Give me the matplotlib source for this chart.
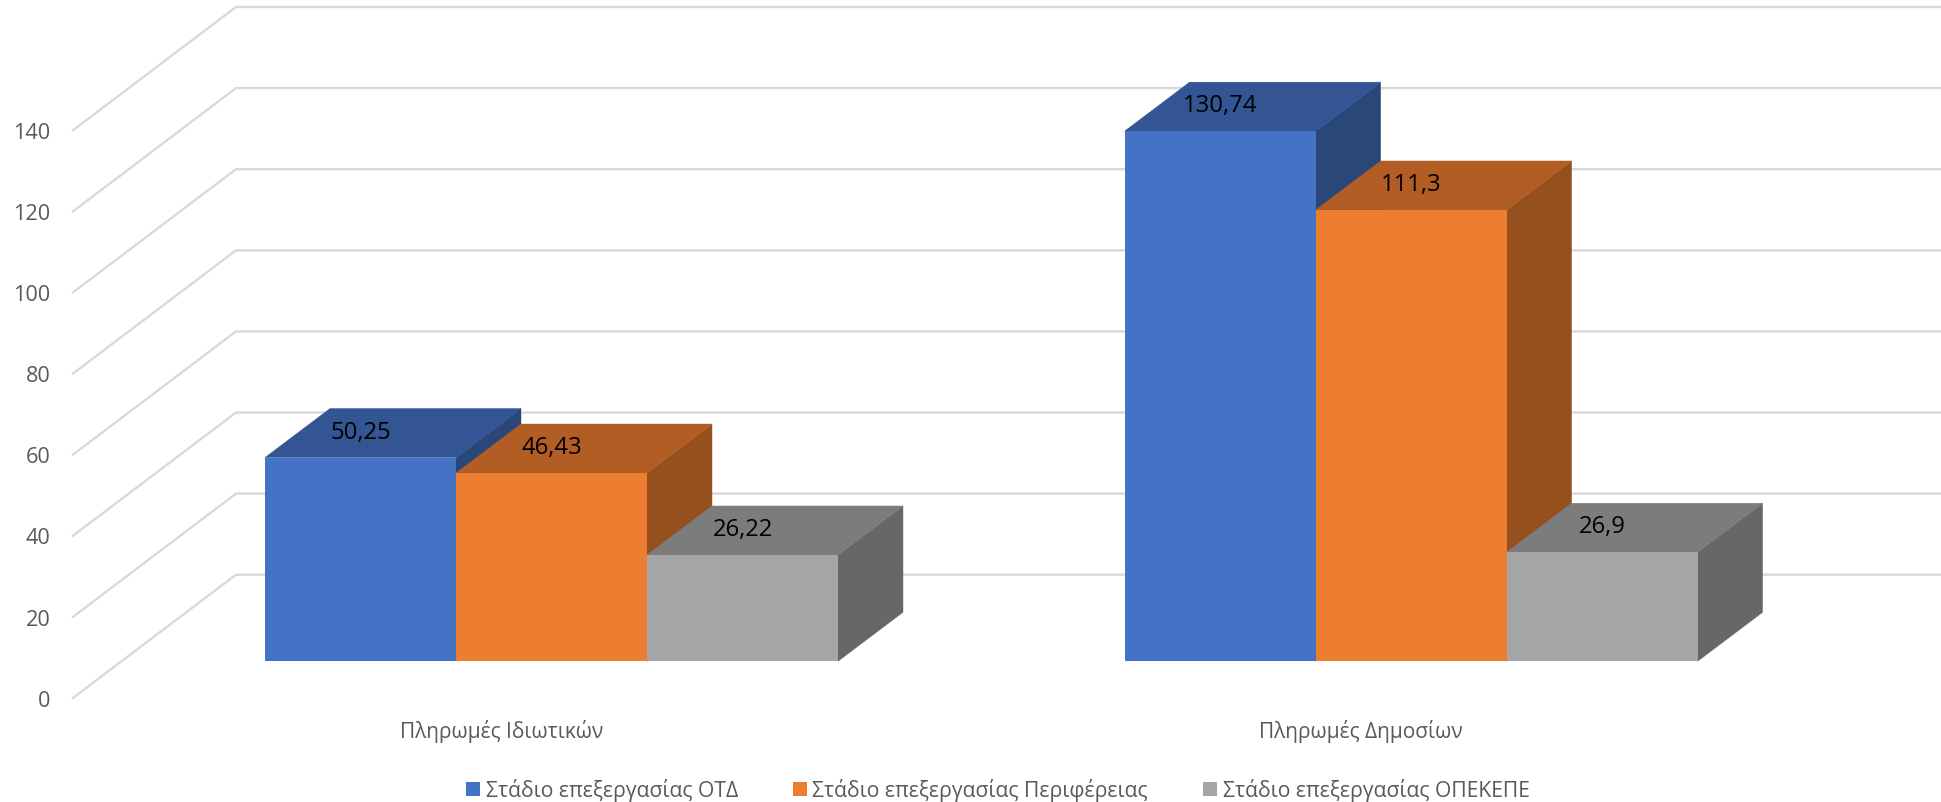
import matplotlib
matplotlib.use("Agg")
import matplotlib.pyplot as plt
from matplotlib.patches import Polygon, Patch

plt.rcParams['font.family'] = ['Open Sans', 'DejaVu Sans']

# ---- data ----
categories = ["Πληρωμές Ιδιωτικών", "Πληρωμές Δημοσίων"]
series_names = ["Στάδιο επεξεργασίας ΟΤΔ", "Στάδιο επεξεργασίας Περιφέρειας", "Στάδιο επεξεργασίας ΟΠΕΚΕΠΕ"]
values_otd = [50.25, 130.74]
values_perifereia = [46.43, 111.3]
values_opekepe = [26.22, 26.9]
value_labels_otd = ["50,25", "130,74"]
value_labels_perifereia = ["46,43", "111,3"]
value_labels_opekepe = ["26,22", "26,9"]
y_ticks = [0, 20, 40, 60, 80, 100, 120, 140]

# ---- styles ----
front_colors = ["#4472C4", "#ED7D31", "#A5A5A5"]
top_colors = ["#335593", "#B25D23", "#7C7C7C"]
side_colors = ["#2A4779", "#95501D", "#676767"]
grid_color = "#D9D9D9"
text_color = "#595959"

W, H = 1941, 802
PX_PER_CAT = 859.6       # px between category centres
PX_PER_UNIT = 4.055      # px per value unit
CAT0_PX = 551.5          # px of first category centre, bar plane
BASE_PX = 661.3          # px of value 0, bar plane
AX_LEFT_PX, AX_BOTTOM_PX = 72.0, 698.7
WALL_BACK_PX, WALL_BACK_BASE_PX = 236.0, 574.7
BAR_WIDTH = 191.0 / PX_PER_CAT
BAR_DX = 65.0 / PX_PER_CAT   # depth of a bar, x data units
BAR_DY = 49.0 / PX_PER_UNIT  # depth of a bar, value units
LABEL_LIFT = 25.0 / PX_PER_UNIT
FLOOR_SHIFT = 50.0 / PX_PER_CAT  # category labels sit at the floor's front edge

fig = plt.figure(figsize=(W / 100, H / 100), dpi=100, facecolor="white")
ax = fig.add_axes([AX_LEFT_PX / W, 1 - AX_BOTTOM_PX / H, 1 - AX_LEFT_PX / W, AX_BOTTOM_PX / H])
ax.set_xlim((AX_LEFT_PX - CAT0_PX) / PX_PER_CAT, (W - CAT0_PX) / PX_PER_CAT)
front_lift = (BASE_PX - AX_BOTTOM_PX) / PX_PER_UNIT
back_lift = (BASE_PX - WALL_BACK_BASE_PX) / PX_PER_UNIT
ax.set_ylim(front_lift, BASE_PX / PX_PER_UNIT)
for s in ax.spines.values():
    s.set_visible(False)
x_left, x_right = ax.get_xlim()
x_back = (WALL_BACK_PX - CAT0_PX) / PX_PER_CAT

# gridlines on side and back walls
for v in y_ticks:
    ax.plot([x_left, x_back, x_right],
            [v + front_lift, v + back_lift, v + back_lift],
            color=grid_color, lw=1.7, zorder=1, clip_on=False,
            solid_joinstyle="miter", solid_capstyle="butt")

# value ticks at the front edge of the side wall
ax.set_yticks([v + front_lift for v in y_ticks])
ax.set_yticklabels([str(v) for v in y_ticks], fontsize=15.6, color=text_color)
ax.tick_params(axis="y", length=0, pad=15.5)

# category ticks on the floor's front edge
ax.set_xticks([c - FLOOR_SHIFT for c in range(len(categories))])
ax.set_xticklabels(categories, fontsize=15, color=text_color)
ax.tick_params(axis="x", length=0, pad=15.5)

# bars, painted left to right
all_values = [values_otd, values_perifereia, values_opekepe]
all_labels = [value_labels_otd, value_labels_perifereia, value_labels_opekepe]
z = 2
for c in range(len(categories)):
    for s, vals in enumerate(all_values):
        v = vals[c]
        x0 = c + (s - 1.5) * BAR_WIDTH
        x1 = x0 + BAR_WIDTH
        ax.add_patch(Polygon([(x1, 0), (x1 + BAR_DX, BAR_DY), (x1 + BAR_DX, v + BAR_DY), (x1, v)],
                             closed=True, facecolor=side_colors[s], edgecolor=side_colors[s],
                             lw=0.3, zorder=z))
        ax.add_patch(Polygon([(x0, v), (x1, v), (x1 + BAR_DX, v + BAR_DY), (x0 + BAR_DX, v + BAR_DY)],
                             closed=True, facecolor=top_colors[s], edgecolor=top_colors[s],
                             lw=0.3, zorder=z + 0.1))
        ax.bar(x0, v, width=BAR_WIDTH, align="edge", color=front_colors[s],
               lw=0, zorder=z + 0.2)
        z += 1
for c in range(len(categories)):
    for s, vals in enumerate(all_values):
        x = c + (s - 1) * BAR_WIDTH
        ax.text(x, vals[c] + LABEL_LIFT, all_labels[s][c], ha="center", va="center",
                fontsize=17.2, color="black", zorder=50)

# legend
handles = [Patch(facecolor=col, edgecolor="none") for col in front_colors]
fig.legend(handles, series_names, loc="center left", ncol=3,
           bbox_to_anchor=(466 / W, 1 - 790 / H), frameon=False,
           fontsize=15.2, labelcolor=text_color, handlelength=0.66, handleheight=0.66,
           handletextpad=0.27, columnspacing=2.6, borderpad=0, borderaxespad=0)

fig.savefig("out.png", dpi=100)
